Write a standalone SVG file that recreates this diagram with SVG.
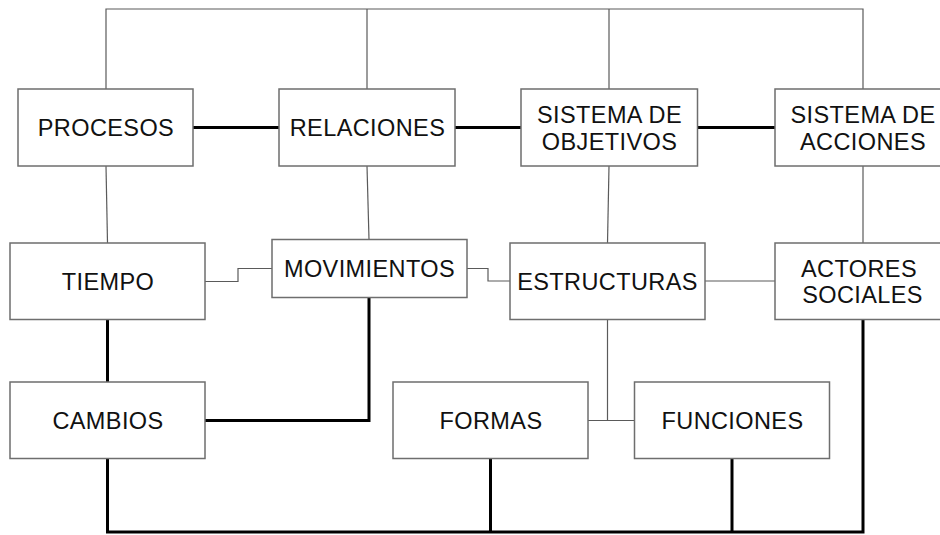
<svg xmlns="http://www.w3.org/2000/svg" width="940" height="535" viewBox="0 0 940 535">
<style>
.box{fill:#fff;stroke:#6e6e6e;stroke-width:1.5}
.t{font-family:"Liberation Sans",Arial,sans-serif;font-size:23.5px;fill:#111;text-anchor:middle;letter-spacing:0.4px}
.thin{fill:none;stroke:#5a5a5a;stroke-width:1.2}
.thick{fill:none;stroke:#000;stroke-width:3}
</style>
<rect width="940" height="535" fill="#fff"/>
<g id="connectors">
<polyline class="thin" points="106,89 106,9 863,9 863,89"/>
<line class="thin" x1="367" y1="9" x2="367" y2="89"/>
<line class="thin" x1="609" y1="9" x2="609" y2="89"/>
<line class="thick" x1="193" y1="127.5" x2="279" y2="127.5"/>
<line class="thick" x1="455" y1="127.5" x2="521" y2="127.5"/>
<line class="thick" x1="697" y1="127.5" x2="775" y2="127.5"/>
<line class="thin" x1="106" y1="166" x2="107.5" y2="243"/>
<line class="thin" x1="367" y1="166" x2="369" y2="239.5"/>
<line class="thin" x1="609" y1="166" x2="607.5" y2="243"/>
<line class="thin" x1="863" y1="166" x2="863" y2="243"/>
<polyline class="thin" points="205,281.5 238,281.5 238,268.5 272,268.5"/>
<polyline class="thin" points="467,268.5 488,268.5 488,281 510,281"/>
<line class="thin" x1="705" y1="281" x2="775" y2="281"/>
<line class="thick" x1="107.5" y1="319" x2="107.5" y2="382"/>
<polyline class="thick" points="205,420.5 369,420.5 369,297.5"/>
<polyline class="thin" points="607.5,319 607.5,420.5"/>
<line class="thin" x1="588" y1="420.5" x2="634.5" y2="420.5"/>
<polyline class="thick" points="107.5,459 107.5,532 863,532 863,319"/>
<line class="thick" x1="490.5" y1="459" x2="490.5" y2="532"/>
<line class="thick" x1="732" y1="459" x2="732" y2="532"/>
</g>
<g id="procesos"><rect class="box" x="18" y="89" width="175" height="77"/><text class="t" x="106" y="136">PROCESOS</text></g>
<g id="relaciones"><rect class="box" x="279" y="89" width="176" height="77"/><text class="t" x="367.5" y="136">RELACIONES</text></g>
<g id="sistema-objetivos"><rect class="box" x="521" y="89" width="176.5" height="77"/><text class="t" x="609.5" y="123">SISTEMA DE</text><text class="t" x="609.5" y="150">OBJETIVOS</text></g>
<g id="sistema-acciones"><rect class="box" x="775" y="89" width="176" height="77"/><text class="t" x="863" y="123">SISTEMA DE</text><text class="t" x="863" y="150">ACCIONES</text></g>
<g id="tiempo"><rect class="box" x="10" y="243" width="195" height="76.5"/><text class="t" x="108" y="289.5">TIEMPO</text></g>
<g id="movimientos"><rect class="box" x="272" y="239.5" width="195" height="58"/><text class="t" x="369.5" y="277">MOVIMIENTOS</text></g>
<g id="estructuras"><rect class="box" x="510" y="243" width="195" height="76.5"/><text class="t" x="607.5" y="289.5">ESTRUCTURAS</text></g>
<g id="actores-sociales"><rect class="box" x="775" y="243" width="176" height="76.5"/><text class="t" x="859" y="277">ACTORES</text><text class="t" x="862.5" y="302.5">SOCIALES</text></g>
<g id="cambios"><rect class="box" x="10" y="382" width="195" height="76.5"/><text class="t" x="108" y="429">CAMBIOS</text></g>
<g id="formas"><rect class="box" x="393" y="382" width="195" height="76.5"/><text class="t" x="491" y="429">FORMAS</text></g>
<g id="funciones"><rect class="box" x="634.5" y="382" width="195" height="76.5"/><text class="t" x="732.5" y="429">FUNCIONES</text></g>
</svg>
